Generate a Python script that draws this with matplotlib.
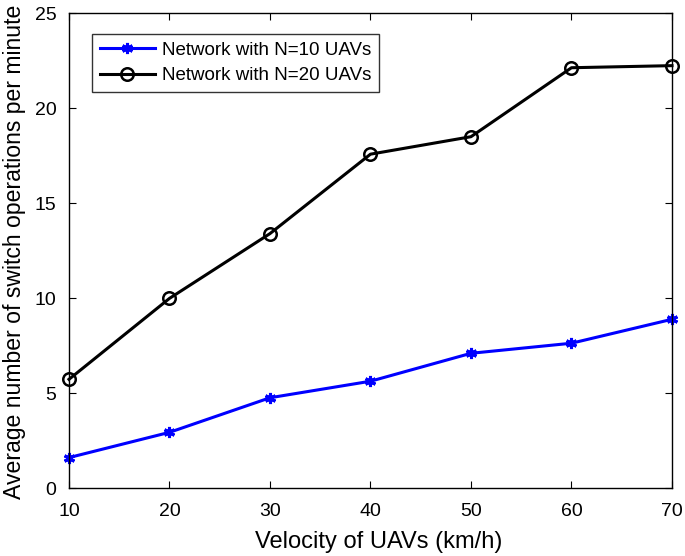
import matplotlib
matplotlib.use('Agg')
import matplotlib.pyplot as plt

plt.rcParams['font.family'] = ['Liberation Sans', 'DejaVu Sans']

velocity = [10, 20, 30, 40, 50, 60, 70]
switch_n10 = [1.6, 2.93, 4.75, 5.62, 7.09, 7.62, 8.88]
switch_n20 = [5.72, 9.98, 13.39, 17.57, 18.49, 22.12, 22.23]

fig = plt.figure(figsize=(6.85, 5.56), dpi=100)
ax = fig.add_axes([0.1007, 0.1223, 0.8803, 0.8543])

# MATLAB style asterisk marker for the N=10 line
ax.plot(velocity, switch_n10, color='blue', linewidth=2.2, marker=(6, 2, 0),
        markersize=8, markeredgewidth=2.2, label='Network with N=10 UAVs',
        clip_on=False)
ax.plot(velocity, switch_n20, color='black', linewidth=2.2, marker='o',
        markersize=9, markerfacecolor='none', markeredgewidth=1.8,
        label='Network with N=20 UAVs', clip_on=False)

ax.set_xlim(10, 70)
ax.set_ylim(0, 25)
ax.set_xticks(velocity)
ax.set_yticks([0, 5, 10, 15, 20, 25])
ax.tick_params(direction='in', top=True, right=True, labelsize=14,
               length=5, width=0.8)
ax.tick_params(axis='x', pad=11)
ax.tick_params(axis='y', pad=9)
for s in ax.spines.values():
    s.set_linewidth(1.0)

ax.set_xlabel('Velocity of UAVs (km/h)', fontsize=17, labelpad=8, x=0.514)
ax.set_ylabel('Average number of switch operations per minute', fontsize=16.6,
              labelpad=6, y=0.497)

leg = ax.legend(loc='upper left', bbox_to_anchor=(0.038, 0.956), fontsize=13.5,
                frameon=True, fancybox=False, edgecolor='black',
                handlelength=2.93, borderpad=0.42, labelspacing=0.45,
                handletextpad=0.37, borderaxespad=0)
leg.get_frame().set_linewidth(1.0)

fig.savefig('out.png', dpi=100)
